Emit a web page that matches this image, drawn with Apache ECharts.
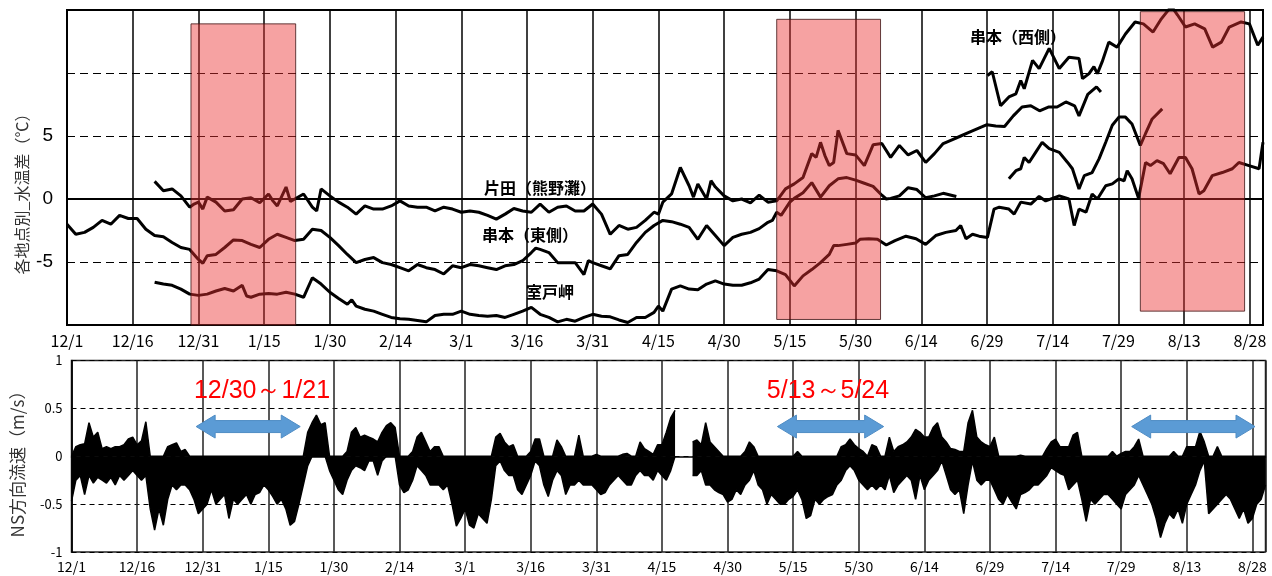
<!DOCTYPE html>
<html><head><meta charset="utf-8">
<script src="https://cdn.jsdelivr.net/npm/echarts@6/dist/echarts.min.js"></script>
<style>html,body{margin:0;padding:0;background:#fff}#c{width:1272px;height:576px}</style>
</head><body><div id="c"></div>
<script>
// x = days since 12/1 (0..273)
const tickLabels = ['12/1','12/16','12/31','1/15','1/30','2/14','3/1','3/16','3/31','4/15','4/30','5/15','5/30','6/14','6/29','7/14','7/29','8/13','8/28'];
const tempLabels = ['-5','0','5'];

const kushimotoEast = [[0,-2.0],[2,-2.8],[4,-2.65],[6,-2.25],[8,-1.7],[10,-2.0],[12,-1.3],[14,-1.55],[16,-1.55],[18,-2.4],[20,-2.9],[22,-3.0],[24,-3.45],[26,-3.85],[28,-4.0],[30,-4.8],[31,-5.1],[32,-4.5],[34,-4.4],[36,-3.85],[38,-3.25],[40,-3.3],[42,-3.6],[44,-3.85],[46,-3.2],[48,-2.8],[50,-3.05],[52,-3.3],[54,-3.2],[56,-2.4],[58,-2.5],[60,-3.05],[62,-3.7],[64,-4.4],[66,-5.05],[68,-4.8],[70,-4.65],[72,-5.05],[74,-5.2],[76,-5.45],[78,-5.7],[80,-5.2],[82,-5.45],[84,-5.6],[86,-5.95],[88,-5.3],[90,-5.45],[92,-5.2],[94,-5.3],[96,-5.45],[98,-5.6],[100,-5.3],[102,-5.2],[104,-4.9],[106,-4.25],[107,-3.9],[108,-4.0],[110,-4.25],[112,-5.05],[114,-5.05],[116,-5.05],[118,-6.0],[119,-4.9],[120,-5.05],[122,-5.3],[124,-5.55],[126,-4.5],[128,-4.4],[130,-3.45],[132,-2.65],[134,-2.1],[136,-1.7],[138,-1.8],[140,-2.0],[142,-2.25],[144,-3.2],[146,-2.1],[148,-2.9],[150,-3.7],[152,-3.05],[154,-2.8],[156,-2.65],[158,-2.35],[160,-1.85],[161,-1.7],[162,-1.05],[163,-1.3],[165,-0.25],[166,0.05],[168,0.5],[170,1.3],[172,0.15],[174,1.05],[176,1.6],[178,1.7],[180,1.5],[182,1.25],[184,1.0],[186,0.3],[187,0.0],[188,0.05],[190,0.25],[192,0.9],[194,0.75],[196,0.1],[198,0.25],[200,0.45],[203,0.2]];
const kushimotoEast2 = [[215,1.6],[216.6,2.25],[217.7,2.4],[218.5,3.3],[219.6,2.9],[221.1,3.7],[222.6,4.5],[224.2,4.0],[226.5,3.7],[228.4,2.9],[229.5,2.4],[231,0.8],[232.2,1.85],[234,2.1],[235.6,3.2],[237.1,4.5],[238.6,5.85],[240.1,6.5],[241.6,6.5],[243.1,5.95],[245,4.25],[246.2,5.2],[247.7,6.35],[250,7.15]];
const katada = [[20,1.4],[22,0.65],[24,0.8],[26,0.25],[28,-0.65],[29,-0.4],[30,-0.25],[31,-0.8],[32,0.15],[34,-0.25],[36,-0.95],[38,-0.85],[40,0],[42,0.1],[44,-0.3],[46,0.4],[47,-0.15],[48,-0.55],[50,0.95],[51,-0.2],[52,0],[54,0.4],[56,-0.65],[57,-0.95],[58,0.8],[60,0.25],[62,-0.25],[64,-0.65],[66,-1.2],[68,-0.55],[70,-0.8],[72,-0.8],[74,-0.55],[76,-0.15],[78,-0.55],[80,-0.65],[82,-0.65],[84,-0.95],[86,-0.65],[88,-0.8],[90,-1.05],[92,-0.95],[94,-1.05],[96,-1.3],[98,-1.6],[100,-1.2],[102,-0.75],[104,-0.95],[106,-1.05],[108,-0.4],[110,-1.05],[112,-0.65],[114,-0.55],[116,-0.95],[118,-0.95],[120,-0.4],[122,-1.2],[124,-2.8],[126,-2.1],[128,-2.4],[130,-2.25],[132,-1.7],[134,-1.05],[135,-1.2],[136,-0.25],[138,0.4],[140,2.5],[142,1.05],[143,0.15],[144,1.2],[146,0],[147,1.45],[148,0.95],[150,0.25],[152,-0.15],[154,0],[156,-0.3],[158,0.3],[160,-0.25],[162,-0.15],[164,0.8],[166,1.2],[168,1.7],[170,3.6],[171,3.3],[172,4.5],[173,3.45],[174,2.65],[175,2.9],[176,5.45],[178,3.6],[180,3.5],[182,2.65],[184,4.3],[186,4.4],[188,3.3],[190,4.25],[192,3.5],[194,3.85],[196,2.9],[198,3.6],[200,4.4],[202,4.7],[204,5.0],[206,5.3],[208,5.6],[210,5.9],[212,5.8],[214,5.75],[216,6.6],[218,7.3],[220,7.4],[222,7.0],[224,7.3],[226,7.3],[228,7.7],[230,7.4],[231,6.6],[233,8.3],[235,8.9],[236,8.5]];
const muroto = [[20,-6.6],[22,-6.75],[24,-6.85],[26,-7.15],[28,-7.55],[30,-7.65],[32,-7.55],[34,-7.3],[36,-7.1],[38,-7.3],[40,-6.85],[41,-7.7],[42,-7.8],[44,-7.55],[46,-7.5],[48,-7.55],[50,-7.4],[52,-7.55],[54,-7.8],[56,-6.25],[58,-6.75],[60,-7.4],[62,-7.9],[64,-8.35],[65,-8.0],[66,-8.5],[68,-8.75],[70,-8.9],[72,-9.15],[74,-9.4],[76,-9.5],[78,-9.55],[80,-9.65],[82,-9.75],[84,-9.25],[86,-9.15],[88,-9.15],[90,-8.9],[92,-9.15],[94,-9.25],[96,-9.3],[98,-9.25],[100,-9.4],[102,-9.15],[104,-8.9],[106,-8.6],[108,-9.15],[110,-9.4],[112,-9.75],[114,-9.55],[116,-9.7],[118,-9.4],[120,-9.15],[122,-9.3],[124,-9.35],[126,-9.6],[128,-9.8],[130,-9.4],[132,-9.4],[134,-9.0],[135,-8.5],[136,-8.9],[138,-7.15],[140,-6.9],[142,-7.15],[144,-7.2],[146,-6.75],[148,-6.5],[150,-6.75],[152,-6.85],[154,-6.85],[156,-6.65],[158,-6.35],[160,-5.6],[162,-5.7],[164,-6.0],[166,-6.9],[168,-6.1],[170,-5.6],[172,-5.05],[174,-4.4],[175,-3.7],[176,-3.7],[178,-3.6],[180,-3.5],[181,-3.2],[183,-3.15],[185,-3.2],[187,-3.65],[189,-3.3],[191.5,-2.95],[193.8,-3.15],[196,-3.6],[198.3,-2.9],[200.6,-2.65],[202.9,-2.5],[204,-2.1],[205.2,-3.15],[206.7,-2.8],[208.2,-2.95],[210.1,-3.05],[211.6,-0.8],[212.8,-0.65],[215,-0.8],[216.2,-1.2],[217.7,-0.25],[220,-0.4],[221.9,0.2],[223.4,-0.15],[226.5,0.25],[228.7,0],[229.9,-2.1],[231,-0.8],[232.6,-1.05],[234,0.4],[235.2,0],[237.1,1.05],[238.6,1.2],[240.1,1.6],[241.3,1.45],[242,2.25],[243.1,1.6],[244.6,0.05],[246.2,2.9],[247.3,2.65],[248.8,3.05],[250.3,2.8],[251.8,2.0],[253.8,3.3],[255.3,3.3],[256.8,2.4],[258.4,0.4],[259.5,0.65],[261.4,1.85],[263.7,2.1],[266,2.4],[267.5,2.9],[269.8,2.65],[272.1,2.4],[273,4.5]];
const kushimotoWest = [[210.1,9.8],[211.2,10.1],[213.1,7.4],[215,8.1],[216.6,8.35],[217.7,9.4],[218.5,8.75],[220.4,11.0],[221.9,10.35],[224.2,11.95],[226.5,10.35],[228.7,11.25],[231,11.15],[231.8,9.55],[233.3,9.95],[234.4,10.5],[235.2,9.95],[236.3,10.9],[237.8,12.45],[239.7,12.05],[241.6,13.1],[243.8,14.05],[245.7,13.9],[247.9,13.25],[249.8,14.3],[252.1,15.3],[253.5,14.6],[255.3,13.65],[257.4,13.9],[259.7,13.5],[261.5,12.05],[263.5,12.45],[265.3,13.65],[268,14.05],[269.9,13.9],[271.8,12.2],[273,12.85]];

// shaded periods (top chart): start day, end day, top value, bottom value
const shadeStart = [28.3, 162, 245];
const shadeEnd = [52.2, 185.7, 268.8];
const shadeTop = [13.9, 14.26, 14.87];
const shadeBottom = [-10, -9.56, -8.9];

// NS current (m/s), daily envelope: max (>=0) and min (<=0), day 0..273
const nsUpper = [0,0.1,0.12,0.13,0.35,0.2,0.25,0.08,0.1,0.08,0.1,0.1,0.12,0.18,0.2,0.12,0.16,0.36,0,0,
0,0,0.1,0.12,0.14,0.05,0.07,0,0,0,0,0,0,0,0,0,0,0,0,0,
0,0,0,0,0,0,0,0,0,0,0,0,0,0,0.25,0.35,0.43,0.33,0.35,0,
0,0,0,0.05,0.25,0.3,0.2,0.22,0.2,0.18,0.15,0.25,0.32,0.35,0.3,0,0,0,0.05,0.2,
0.25,0.15,0.05,0.1,0.1,0,0,0,0,0,0,0,0,0,0,0,0,0.2,0.24,0.15,
0.1,0.12,0,0,0,0.05,0.18,0.18,0,0,0,0.17,0.1,0,0,0,0.22,0,0,0,
0.02,0,0,0,0,0,0.02,0.03,0,0,0.15,0.08,0.05,0.02,0.12,0.12,0.25,0.4,0.48,null,
null,null,0.15,0.17,0.12,0.35,0.15,0.1,0.05,0,0,0,0,0,0.05,0.15,0.1,0,0,0,
0,0,0,0,0,0,0.05,0,0,0,0,0,0,0,0,0,0.1,0.12,0.18,0.12,
0.08,0.05,0,0.12,0.1,0,0,0.2,0.05,0.1,0.12,0.15,0.2,0.28,0.25,0.2,0.2,0.3,0.35,0.2,
0.15,0.08,0.07,0.05,0.05,0.35,0.48,0.2,0.15,0.12,0.1,0.2,0,0,0,0,0,0.01,0,0,
0,0,0,0.08,0.15,0.18,0.1,0.1,0.1,0.22,0.25,0,0,0,0,0,0,0,0.05,0,
0.03,0.05,0.05,0.1,0.18,0,0,0,0,0,0,0,0.05,0,0,0.1,0.1,0.1,0.26,0.15,
0,0,0.1,0,0,0,0,0,0,0,0,0,0,0];
const nsLower = [-0.47,-0.25,-0.2,-0.4,-0.2,-0.28,-0.22,-0.25,-0.28,-0.22,-0.3,-0.2,-0.25,-0.2,-0.15,-0.2,-0.25,-0.2,-0.55,-0.77,
-0.55,-0.72,-0.45,-0.3,-0.35,-0.3,-0.3,-0.35,-0.45,-0.6,-0.55,-0.5,-0.35,-0.5,-0.45,-0.4,-0.65,-0.45,-0.5,-0.45,
-0.4,-0.5,-0.4,-0.38,-0.3,-0.35,-0.42,-0.5,-0.45,-0.55,-0.72,-0.68,-0.5,-0.3,-0.1,0,0,0,0,-0.15,
-0.25,-0.35,-0.4,-0.25,-0.15,-0.1,-0.12,-0.15,-0.05,-0.05,-0.2,-0.05,0,0,0,-0.3,-0.38,-0.35,-0.25,-0.1,
-0.15,-0.2,-0.3,-0.3,-0.3,-0.35,-0.3,-0.5,-0.73,-0.65,-0.55,-0.72,-0.75,-0.6,-0.65,-0.7,-0.45,-0.1,-0.05,-0.15,
-0.2,-0.2,-0.35,-0.4,-0.3,-0.2,-0.05,-0.1,-0.3,-0.42,-0.25,-0.15,-0.2,-0.4,-0.3,-0.3,-0.25,-0.3,-0.3,-0.3,
-0.35,-0.4,-0.38,-0.3,-0.25,-0.2,-0.25,-0.3,-0.3,-0.2,-0.15,-0.2,-0.2,-0.25,-0.15,-0.2,-0.25,-0.15,0,null,
null,null,-0.2,-0.2,-0.15,-0.3,-0.3,-0.35,-0.38,-0.4,-0.48,-0.45,-0.35,-0.4,-0.3,-0.25,-0.15,-0.3,-0.35,-0.5,
-0.4,-0.45,-0.5,-0.5,-0.45,-0.42,-0.35,-0.45,-0.65,-0.62,-0.45,-0.5,-0.45,-0.42,-0.4,-0.3,-0.25,-0.15,-0.1,-0.15,
-0.25,-0.3,-0.35,-0.3,-0.35,-0.3,-0.35,-0.2,-0.38,-0.3,-0.25,-0.2,-0.25,-0.45,-0.2,-0.35,-0.25,-0.2,-0.15,-0.05,
-0.2,-0.35,-0.4,-0.35,-0.6,-0.3,-0.05,-0.25,-0.3,-0.25,-0.25,-0.35,-0.45,-0.5,-0.4,-0.48,-0.55,-0.4,-0.38,-0.35,
-0.3,-0.3,-0.25,-0.2,-0.12,-0.15,-0.18,-0.2,-0.35,-0.3,-0.25,-0.45,-0.68,-0.45,-0.5,-0.45,-0.4,-0.4,-0.45,-0.5,
-0.55,-0.4,-0.35,-0.3,-0.2,-0.3,-0.4,-0.5,-0.65,-0.85,-0.7,-0.6,-0.65,-0.55,-0.7,-0.5,-0.4,-0.3,-0.15,-0.05,
-0.6,-0.55,-0.5,-0.45,-0.4,-0.45,-0.55,-0.65,-0.55,-0.7,-0.65,-0.5,-0.45,-0.3];

// double arrows (bottom chart): start day, end day, level (m/s)
const arrowStart = [28.5, 161.4, 242.4];
const arrowEnd = [52.3, 185.7, 270.6];
const arrowLevel = [0.31, 0.31, 0.31];

const periodTexts = ['12/30～1/21', '5/13～5/24'];
const seriesLabels = ['片田（熊野灘）', '串本（東側）', '室戸岬', '串本（西側）'];

const chart = echarts.init(document.getElementById('c'), null, {renderer: 'canvas'});
const CJK = '"Noto Sans CJK JP", sans-serif';

const shadeData = shadeStart.map((s, i) => [s, shadeEnd[i], shadeTop[i], shadeBottom[i]]);
const arrowData = arrowStart.map((s, i) => [s, arrowEnd[i], arrowLevel[i]]);
const upperData = nsUpper.map((v, i) => [i, v]);
const lowerData = nsLower.map((v, i) => [i, v]);

function dateFmt(v) { return (v % 15 === 0 && tickLabels[v / 15]) ? tickLabels[v / 15] : ''; }

const lineSeries = (data) => ({
  type: 'line', xAxisIndex: 0, yAxisIndex: 0, data: data, showSymbol: false, symbol: 'none',
  lineStyle: {color: '#000', width: 3}, itemStyle: {color: '#000'}, clip: true, z: 2, silent: true, animation: false
});

const option = {
  animation: false,
  grid: [
    {left: 67, right: 9, top: 10, height: 315, show: true, borderColor: '#000', borderWidth: 2, backgroundColor: 'transparent'},
    {left: 71.5, right: 6.5, top: 360.5, height: 191.5, show: true, borderColor: '#222', borderWidth: 1.5, backgroundColor: 'transparent'}
  ],
  xAxis: [
    {type: 'value', gridIndex: 0, min: 0, max: 273, interval: 15,
     axisLine: {lineStyle: {color: '#000', width: 2}}, axisTick: {show: false},
     axisLabel: {formatter: dateFmt, color: '#000', fontSize: 16, fontFamily: CJK, margin: 8, showMaxLabel: true},
     splitLine: {show: true, lineStyle: {color: '#000', width: 1.5, type: 'solid'}}},
    {type: 'value', gridIndex: 1, min: 0, max: 273, interval: 15,
     axisLine: {lineStyle: {color: '#000', width: 1.5}}, axisTick: {show: false},
     axisLabel: {formatter: dateFmt, color: '#000', fontSize: 14, fontFamily: CJK, margin: 8},
     splitLine: {show: true, lineStyle: {color: '#222', width: 1.5, type: 'solid'}}}
  ],
  yAxis: [
    {type: 'value', gridIndex: 0, min: -10, max: 15, interval: 5,
     axisLine: {show: true, lineStyle: {color: '#000', width: 2}}, axisTick: {show: false},
     axisLabel: {formatter: v => tempLabels.indexOf(String(v)) >= 0 ? String(v) : '', color: '#000', fontSize: 19, fontFamily: '"Liberation Sans", Arial, sans-serif', margin: 14},
     splitLine: {show: true, lineStyle: {color: '#000', width: 1, type: [8, 5]}}},
    {type: 'value', gridIndex: 1, min: -1, max: 1, interval: 0.5,
     axisLine: {show: true, lineStyle: {color: '#000', width: 1.5}}, axisTick: {show: false},
     axisLabel: {color: '#000', fontSize: 13, fontFamily: CJK, margin: 9},
     splitLine: {show: true, lineStyle: {color: '#000', width: 1, type: [5, 4]}}}
  ],
  series: [
    lineSeries(kushimotoEast),
    lineSeries(kushimotoEast2),
    lineSeries(katada),
    lineSeries(muroto),
    lineSeries(kushimotoWest),
    {type: 'custom', xAxisIndex: 0, yAxisIndex: 0, z: 5, silent: true, data: shadeData,
     encode: {x: [0, 1], y: [2, 3]},
     renderItem: function (params, api) {
       const p1 = api.coord([api.value(0), api.value(2)]);
       const p2 = api.coord([api.value(1), api.value(3)]);
       return {type: 'rect', shape: {x: p1[0], y: p1[1], width: p2[0] - p1[0], height: p2[1] - p1[1]},
               style: {fill: 'rgba(236,48,48,0.45)', stroke: 'rgba(60,20,20,0.8)', lineWidth: 1}};
     }},
    {type: 'line', xAxisIndex: 1, yAxisIndex: 1, data: upperData, showSymbol: false, symbol: 'none',
     lineStyle: {color: '#000', width: 1.5}, areaStyle: {color: '#000', opacity: 1}, z: 3, silent: true},
    {type: 'line', xAxisIndex: 1, yAxisIndex: 1, data: lowerData, showSymbol: false, symbol: 'none',
     lineStyle: {color: '#000', width: 1.5}, areaStyle: {color: '#000', opacity: 1}, z: 3, silent: true},
    {type: 'custom', xAxisIndex: 1, yAxisIndex: 1, z: 6, silent: true, data: arrowData,
     encode: {x: [0, 1], y: 2},
     renderItem: function (params, api) {
       const a = api.coord([api.value(0), api.value(2)]);
       const b = api.coord([api.value(1), api.value(2)]);
       const cy = a[1], hl = 19, hh = 11.5, bh = 6;
       const pts = [[a[0], cy], [a[0] + hl, cy - hh], [a[0] + hl, cy - bh], [b[0] - hl, cy - bh], [b[0] - hl, cy - hh],
                    [b[0], cy], [b[0] - hl, cy + hh], [b[0] - hl, cy + bh], [a[0] + hl, cy + bh], [a[0] + hl, cy + hh]];
       return {type: 'polygon', shape: {points: pts}, style: {fill: '#5b9bd5', stroke: '#4f8cc4', lineWidth: 1}};
     }}
  ],
  graphic: [
    {type: 'text', x: 22, y: 190, rotation: Math.PI / 2, z: 100,
     style: {text: '各地点別_水温差（℃）', font: '16px ' + CJK, fill: '#333', textAlign: 'center', textVerticalAlign: 'middle'}},
    {type: 'text', x: 18, y: 460, rotation: Math.PI / 2, z: 100,
     style: {text: 'NS方向流速（m/s）', font: '17px ' + CJK, fill: '#333', textAlign: 'center', textVerticalAlign: 'middle'}},
    {type: 'text', x: 540, y: 188, z: 100, style: {text: seriesLabels[0], font: 'bold 16px ' + CJK, fill: '#000', textAlign: 'center', textVerticalAlign: 'middle'}},
    {type: 'text', x: 530, y: 235, z: 100, style: {text: seriesLabels[1], font: 'bold 16px ' + CJK, fill: '#000', textAlign: 'center', textVerticalAlign: 'middle'}},
    {type: 'text', x: 550, y: 292, z: 100, style: {text: seriesLabels[2], font: 'bold 16px ' + CJK, fill: '#000', textAlign: 'center', textVerticalAlign: 'middle'}},
    {type: 'text', x: 1018, y: 37, z: 100, style: {text: seriesLabels[3], font: 'bold 16px ' + CJK, fill: '#000', textAlign: 'center', textVerticalAlign: 'middle'}},
    {type: 'text', x: 262, y: 391, z: 100, style: {text: periodTexts[0], font: '25px "Liberation Sans", Arial, sans-serif', fill: '#ff0000', textAlign: 'center', textVerticalAlign: 'middle'}},
    {type: 'text', x: 828, y: 391, z: 100, style: {text: periodTexts[1], font: '25px "Liberation Sans", Arial, sans-serif', fill: '#ff0000', textAlign: 'center', textVerticalAlign: 'middle'}}
  ]
};
chart.setOption(option);
</script></body></html>
